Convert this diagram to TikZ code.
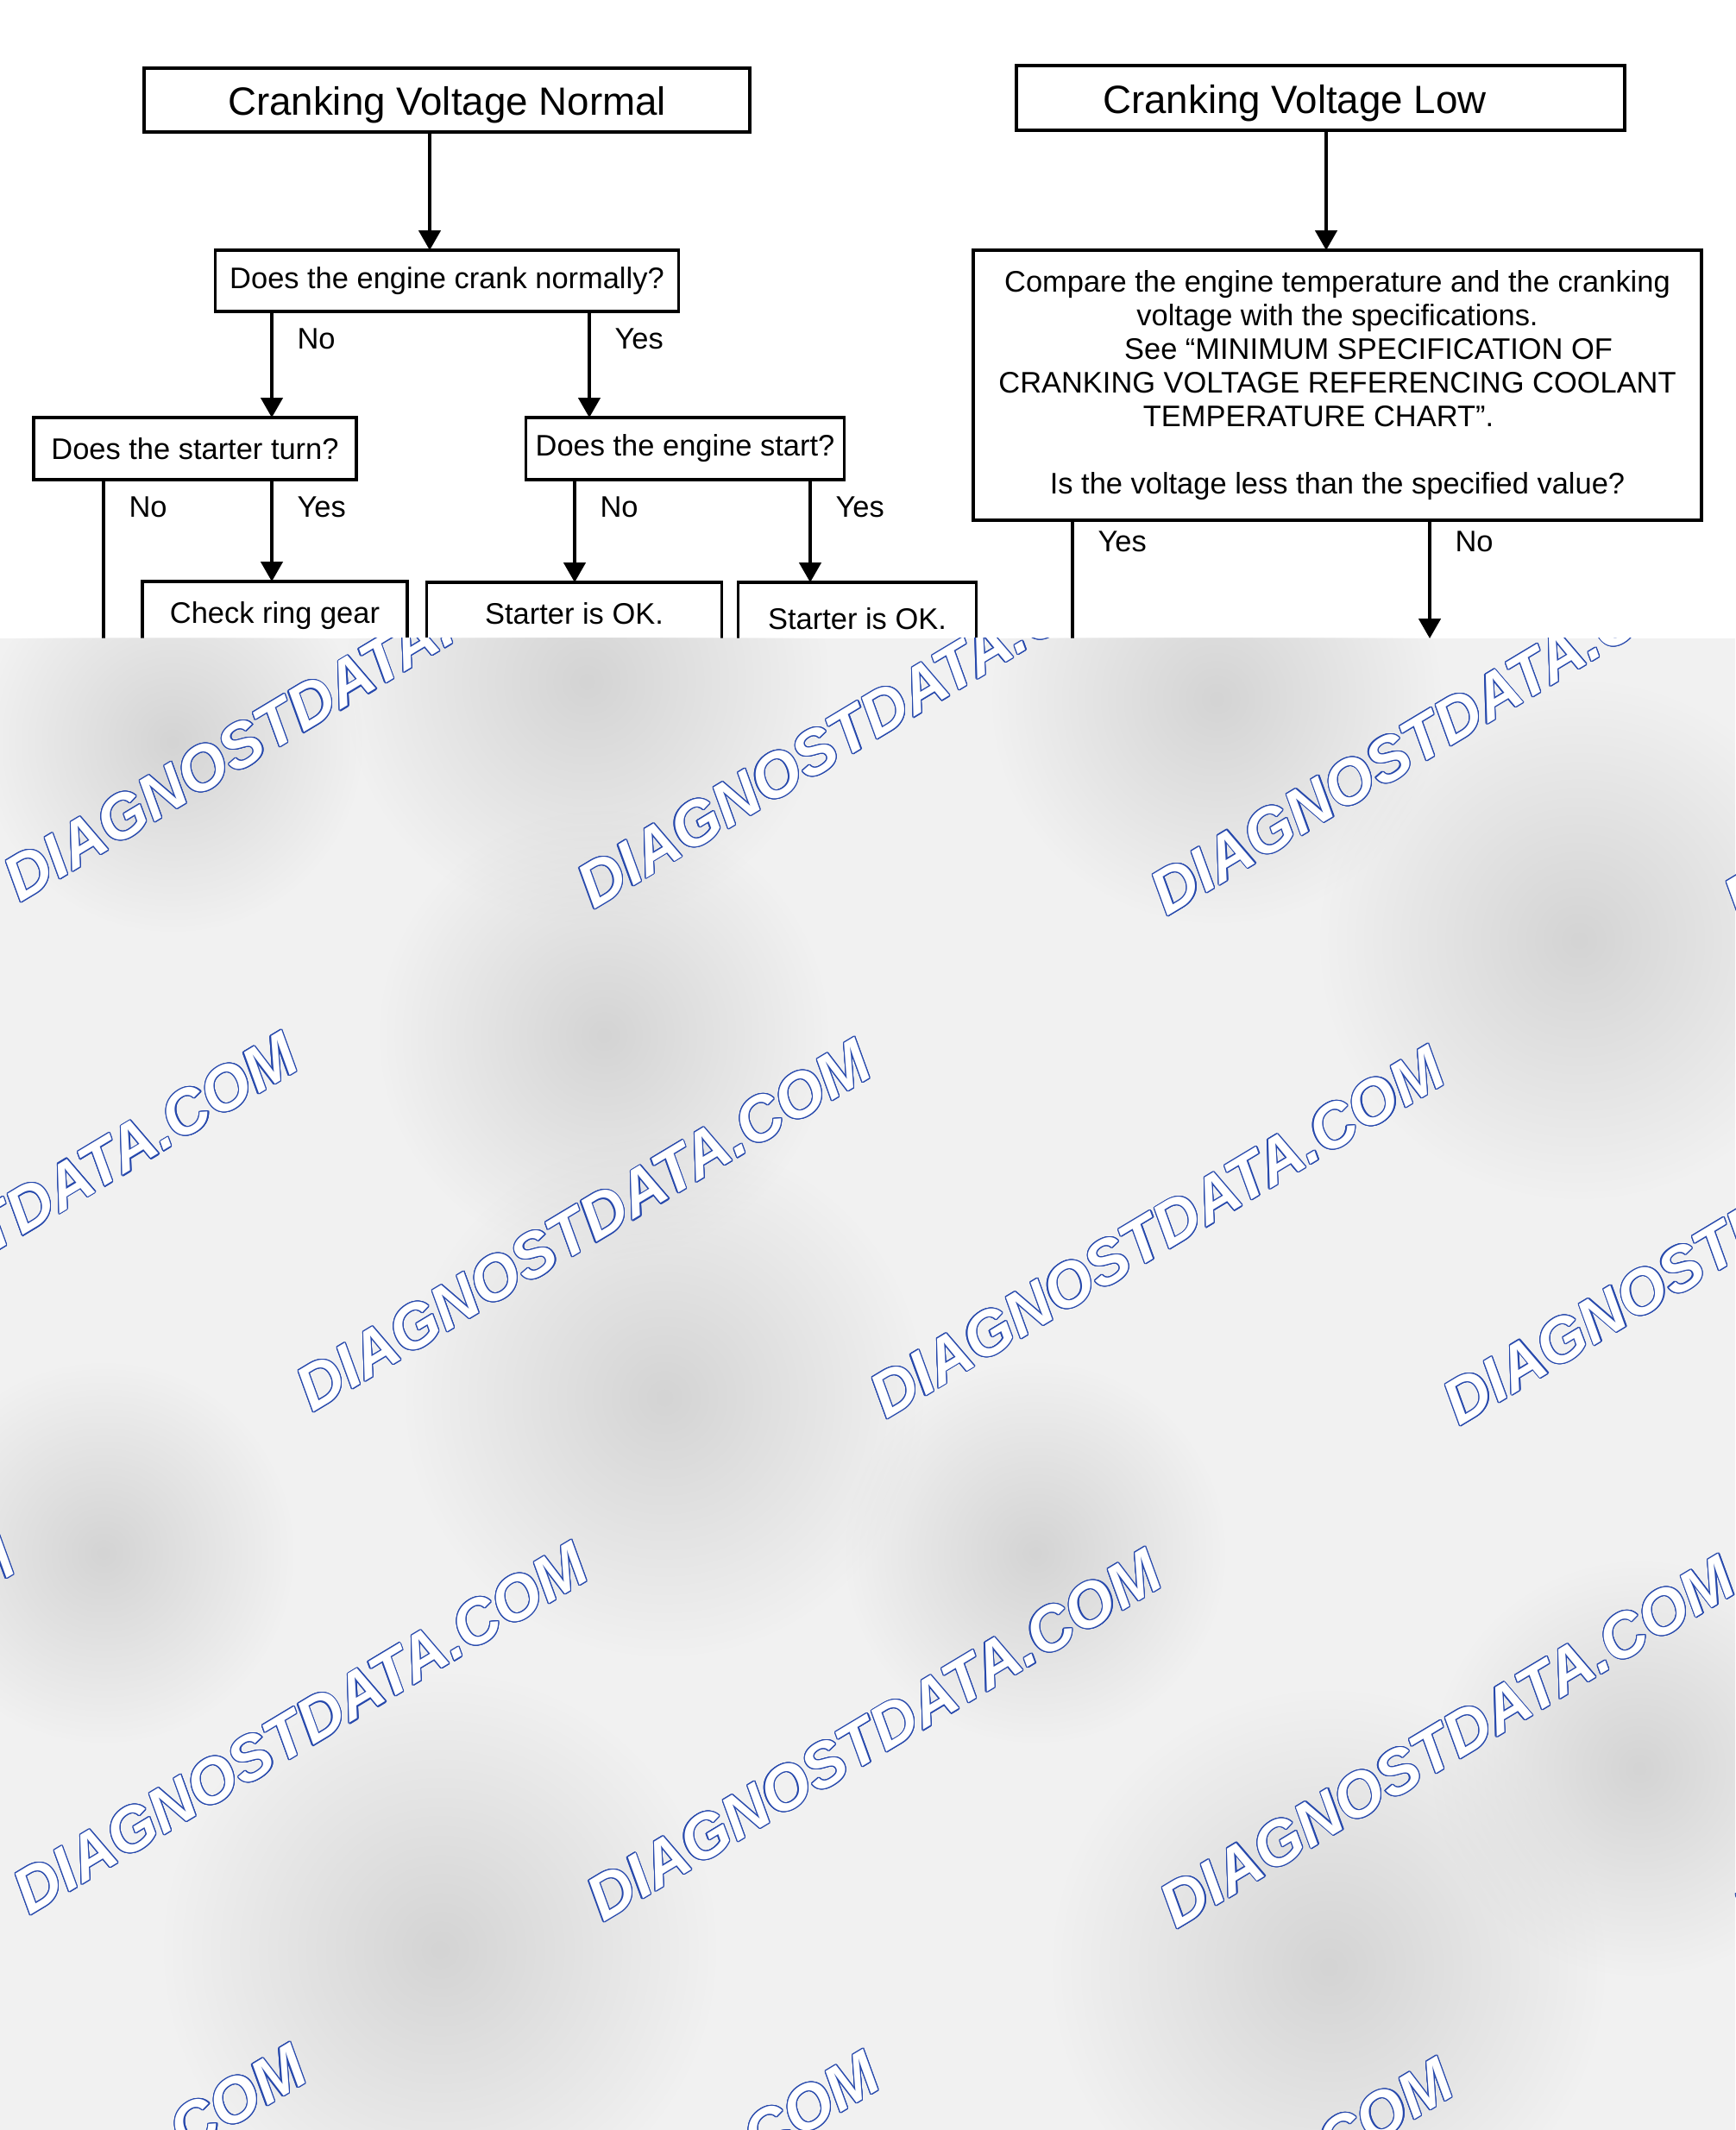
\documentclass[tikz,border=0pt]{standalone}
\usepackage{fontspec}
\setmainfont{Liberation Sans}
\usepackage{contour}
\usetikzlibrary{arrows.meta,positioning,fadings}
\definecolor{wmblue}{RGB}{38,72,172}
\definecolor{wmgray}{RGB}{241,241,241}
\definecolor{wmcloud}{RGB}{212,212,212}
\contourlength{0.35pt}
\tikzfading[name=fuzzy, inner color=transparent!0, outer color=transparent!100]
\tikzset{
    >={Triangle[length=6.5pt,width=7.2pt]},
    font=\fontsize{9.8}{11.1}\selectfont,
    title box/.style={draw,line width=0.9pt,inner sep=0pt,outer sep=0pt,text height=0.36cm,text depth=0pt,font=\fontsize{13}{15}\selectfont},
    question box/.style={draw,line width=0.9pt,inner sep=0pt,outer sep=0pt,align=center},
    result box/.style={draw,line width=0.9pt,inner sep=0pt,outer sep=0pt,text height=0.485cm,text depth=1.2cm,align=center},
    answer/.style={anchor=north west,inner sep=0pt,xshift=0.28cm,yshift=-0.18cm},
    flow/.style={->,line width=0.9pt},
    cloud/.style={wmcloud,path fading=fuzzy},
    watermark/.style={anchor=base west,rotate=31,inner sep=0pt,font=\fontsize{20.6}{20.6}\selectfont\bfseries\itshape}
}

\begin{document}
\begin{tikzpicture}
    \useasboundingbox (0,0) rectangle (20.11,-24.69);
    % left chart
    \node[title box, minimum width=7.02cm, minimum height=0.74cm] (normal) at (5.18,-1.16) {Cranking Voltage Normal};
    \node[question box, minimum width=5.37cm, minimum height=0.71cm] (crank) [below = 1.37cm of normal] {Does the engine crank normally?};
    \node[question box, minimum width=3.74cm, minimum height=0.72cm] (turn) [below = 1.23cm of crank, xshift=-2.92cm] {Does the starter turn?};
    \node[question box, minimum width=3.69cm, minimum height=0.72cm] (start) [below = 1.23cm of crank, xshift=2.76cm] {Does the engine start?};
    \node[result box, minimum width=3.07cm] (ring) [below = 1.18cm of turn, xshift=0.925cm] {Check ring gear};
    \node[result box, minimum width=3.42cm] (ok1) [below = 1.19cm of start, xshift=-1.285cm] {Starter is OK.};
    \node[result box, minimum width=2.76cm, text height=0.545cm] (ok2) [below = 1.19cm of start, xshift=1.995cm] {Starter is OK.};
    % right chart
    \node[title box, minimum width=7.05cm, minimum height=0.75cm] (low) at (15.305,-1.135) {Cranking Voltage Low\rule{0.6cm}{0pt}};
    \node[question box, minimum width=8.44cm, minimum height=3.13cm] (compare) [below = 1.39cm of low, xshift=0.195cm]
        {Compare the engine temperature and the cranking\\
         voltage with the specifications.\\
         \hspace*{0.72cm}See “MINIMUM SPECIFICATION OF\\
         CRANKING VOLTAGE REFERENCING COOLANT\\
         TEMPERATURE CHART”.\rule{0.44cm}{0pt}\\[11.1pt]
         Is the voltage less than the specified value?};
    % arrow columns
    \coordinate (c1) at (4.98,0);
    \coordinate (c2) at (3.15,0);
    \coordinate (c3) at (6.83,0);
    \coordinate (c4) at (1.20,0);
    \coordinate (c6) at (6.66,0);
    \coordinate (c7) at (9.39,0);
    \coordinate (c8) at (15.37,0);
    \coordinate (c9) at (12.43,0);
    \coordinate (c10) at (16.57,0);
    \coordinate (cut) at (0,-7.40);
    \path[flow]
        (normal.south -| c1) edge (crank.north -| c1)
        (crank.south -| c2) edge node[answer, pos=0] {No} (turn.north -| c2)
        (crank.south -| c3) edge node[answer, pos=0] {Yes} (start.north -| c3)
        (turn.south -| c4) edge [-] node[answer, pos=0] {No} (cut -| c4)
        (turn.south -| c2) edge node[answer, pos=0] {Yes} (ring.north -| c2)
        (start.south -| c6) edge node[answer, pos=0] {No} (ok1.north -| c6)
        (start.south -| c7) edge node[answer, pos=0] {Yes} (ok2.north -| c7)
        (low.south -| c8) edge (compare.north -| c8)
        (compare.south -| c9) edge [-] node[answer, pos=0, yshift=0.07cm] {Yes} (cut -| c9)
        (compare.south -| c10) edge node[answer, pos=0, yshift=0.07cm] {No} (cut -| c10)
        ;
    % watermark sheet
    \fill[wmgray] (cut) rectangle (20.11,-24.69);
    \begin{scope}
        \clip (cut) rectangle (20.11,-24.69);
        \foreach \bx/\by/\br in {6.8/-7.9/2.8, 14.1/-8.1/2.6, 18.3/-10.9/3.0, 7.0/-12.0/2.6,
                                 2.0/-8.6/2.2, 7.7/-16.2/3.0, 5.1/-22.6/3.2, 15.4/-22.8/3.2,
                                 12.0/-18.0/2.2, 1.2/-18.0/2.2, 19.0/-20.5/2.4}
            \fill[cloud] (\bx,\by) circle (\br);
        \foreach \rx/\ry [count=\r] in {0.23/-10.47, 3.62/-16.38, 0.34/-22.21, 3.72/-28.11}
            \foreach \k in {-1,...,3}
                \node[watermark] (wm-\r-\k) at ({\rx+6.646*\k},{\ry-0.079*\k})
                    {\contour{wmblue}{\textcolor{white}{DIAGNOSTDATA.COM}}};
    \end{scope}
\end{tikzpicture}
\end{document}
